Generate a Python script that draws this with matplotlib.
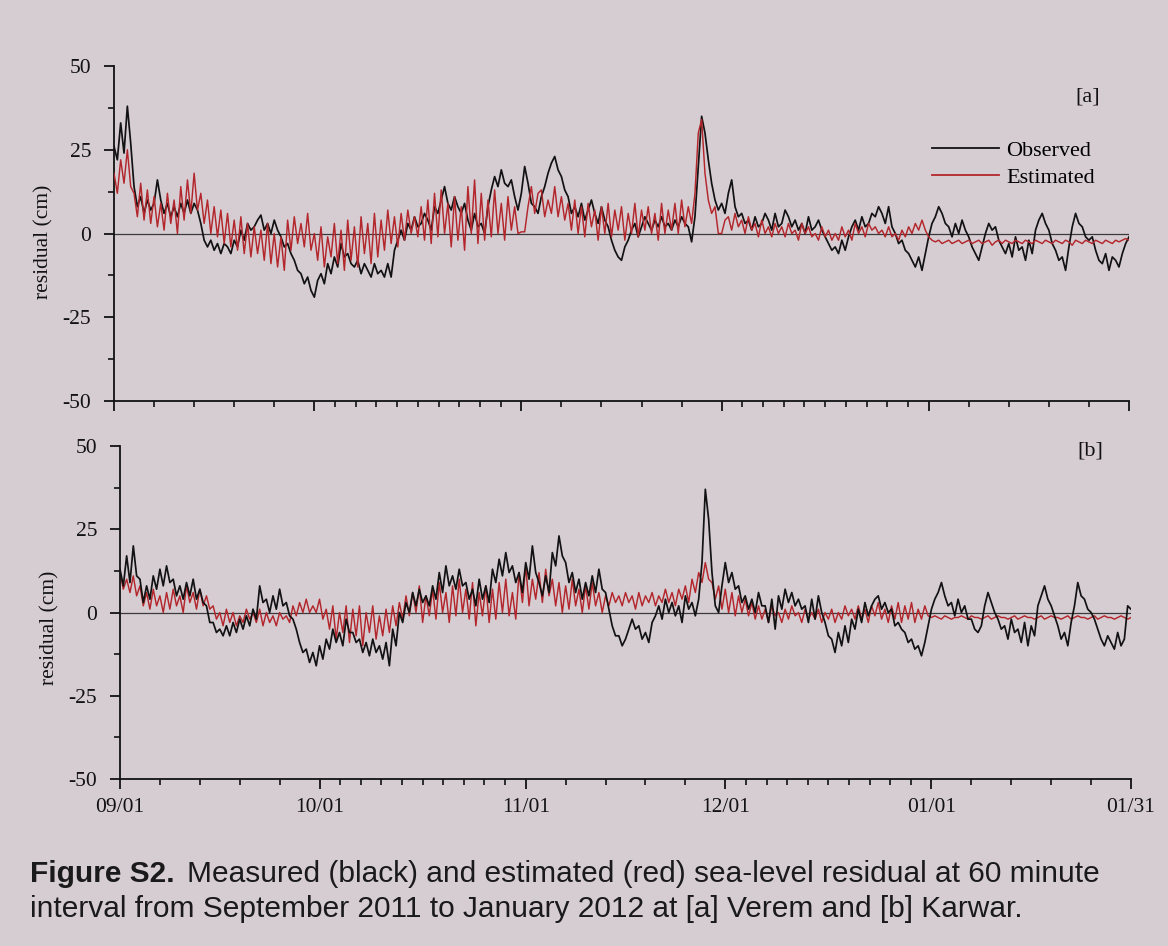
import numpy as np
import matplotlib
matplotlib.use("Agg")
import matplotlib.pyplot as plt
from matplotlib.lines import Line2D

# ---------------------------------------------------------------------------
# Axis labelling
# ---------------------------------------------------------------------------
month_labels = ["09/01", "10/01", "11/01", "12/01", "01/01", "01/31"]
month_days = [0, 30, 61, 91, 122, 152]          # days since 2011-09-01
minor_divisions = [5, 10, 5, 10, 5]            # minor tick subdivisions per month
y_ticks = [-50, -25, 0, 25, 50]
y_tick_labels = ["-50", "-25", "0", "25", "50"]
y_minor = [-37.5, -12.5, 12.5, 37.5]
step_days = 0.5                                 # sampling step of the series below

# ---------------------------------------------------------------------------
# Sea-level residual (cm), 12-hourly samples from 2011-09-01 to 2012-01-31
# ---------------------------------------------------------------------------
# [a] Verem - observed
obs_a = [
    26, 22, 33, 24, 38, 27, 14, 8, 11, 6, 10, 7, 9, 16, 10, 6, 9, 5, 8, 5,
    9, 6, 10, 6, 9, 7, 3, -2, -4, -2, -5, -3, -6, -3, -4, -6, -2, -4, 1, -2,
    3, 1, 2, 4, 5.5, 1, 3, 0, 4, 1, -1, -4, -3, -6, -8, -11, -12, -15, -13, -17,
    -19, -14, -12, -15, -9, -12, -7, -10, -3, -7, -6, -9, -10, -8, -12, -9, -11, -13, -9, -12,
    -11, -13, -9, -13, -5, -2, 1, -2, 3, 1, 5, 2, 3, 6, 4, 1, 8, 6, 10, 14,
    9, 7, 11, 8, 6, 9, 4, 1, 6, 2, 3, 0, 8, 13, 17, 14, 19, 15, 14, 16,
    11, 7, 12, 20, 15, 9, 8, 6, 11, 14, 18, 21, 23, 19, 17, 13, 11, 6, 8, 5,
    9, 4, 7, 10, 6, 3, 8, 4, 2, -2, -5, -7, -8, -4, -2, 1, 3, -1, 2, 5,
    3, 1, 4, 2, 5, 2, 3, 1, 4, 2, 5, 3, 2, -2.5, 5, 20, 35, 30, 22, 15,
    10, 7, 9, 6, 12, 16, 8, 5, 6, 3, 4, 1, 5, 2, 3, 6, 4, 1, 6, 2,
    3, 7, 5, 2, 4, 1, 3, 0, 5, 1, 2, 4, 1, -1, -3, -5, -4, -6, -2, -5,
    -1, 2, 4, 1, 5, 2, 3, 6, 5, 8, 6, 3, 8, 2, 0, -3, -2, -5, -6, -8,
    -10, -7, -11, -6, -1, 3, 5, 8, 6, 3, 2, -1, 3, 0, 4, 1, -1, -4, -6, -8,
    -4, 0, 3, 1, 2, -2, -4, -6, -3, -7, -1, -5, -4, -8, -2, -6, 1, 4, 6, 3,
    1, -3, -5, -8, -7, -11, -4, 2, 6, 3, 2, -1, -2, -1, -5, -8, -9, -6, -11, -7,
    -8, -10, -6, -3, -1,
]

# [a] Verem - estimated
est_a = [
    18, 12, 22, 15, 25, 14, 12, 5, 15, 4, 13, 3, 11, 2, 9, 1, 12, 3, 10, 0,
    14, 4, 16, 6, 18, 7, 12, 3, 10, 0, 8, -1, 7, -3, 6, -4, 4, -5, 5, -6,
    3, -7, 2, -6, 1, -8, 3, -9, 0, -10, -1, -11, 4, -5, 5, -3, 3, -4, 6, -5,
    0, -8, 2, -10, -1, -7, 3, -9, 1, -11, 4, -8, 2, -10, 5, -6, 3, -9, 6, -7,
    4, -5, 7, -3, 5, -4, 6, -2, 7, 0, 5, -1, 8, -2, 10, -3, 12, -1, 13, 0,
    9, -4, 11, -2, 8, -5, 14, 0, 16, -3, 12, -2, 10, -1, 13, 0, 9, -2, 11, 1,
    8, 0, 0.5, 0.5, 8, 14, 6, 12, 13, 5, 10, 6, 14, 5, 11, 4, 9, 1, 10, 0,
    8, -1, 9, 2, 7, -2, 8, 0, 9, -1, 7, 1, 8, -2, 6, 0, 9, -1, 7, 1,
    8, 0, 6, -2, 9, 0, 7, 1, 9, 0, 10, 2, 8, 3, 12, 30, 34, 18, 10, 6,
    8, 0, 0, 4, 5, 1, 6, 2, 4, 0, 5, 1, 3, -1, 4, 0, 2, -1, 3, 0,
    2, -1, 3, 0, 1, -2, 3, 0, 2, -1, 0, -2, 2, -1, 1, -2, 0, -2, 2, -1,
    1, -2, 3, 0, 2, -1, 3, 1, 2, 0, 1, -1, 2, -1, 0, -2, 1, -1, 2, 0,
    3, 1, 4, 1, -1, -2, -2.5, -2, -3, -2.5, -2, -3, -2.5, -2, -3, -2.5, -2, -3, -2.5, -2,
    -3, -2.5, -2, -3.5, -2.5, -2, -3, -2, -2.5, -3, -2, -2.5, -3, -2, -2.5, -3, -2, -2.5, -3, -2,
    -2.5, -3, -2, -2.5, -3, -2, -2.5, -3.5, -2, -2.5, -3, -2, -2.5, -3, -2, -2.5, -3, -2, -2.5, -3,
    -2, -2.5, -2, -1.5, -2,
]

# [b] Karwar - observed
obs_b = [
    13, 8, 17, 9, 20, 11, 10, 3, 8, 4, 11, 7, 13, 8, 14, 9, 10, 5, 8, 4,
    9, 5, 10, 4, 7, 3, 2, -3, -3, -6, -5, -7, -4, -7, -3, -6, -2, -5, -1, -4,
    1, -2, 8, 3, 4, 0, 5, 1, 7, 2, 3, -1, -2, -5, -9, -12, -11, -15, -12, -16,
    -10, -14, -8, -11, -5, -9, -6, -10, -2, -6, -6, -9, -8, -12, -9, -13, -8, -12, -10, -14,
    -9, -16, -5, -10, 0, -3, 3, 0, 6, 2, 7, 3, 5, 2, 8, 4, 12, 6, 14, 8,
    11, 7, 13, 8, 9, 4, 7, 2, 10, 4, 8, 3, 13, 9, 16, 11, 18, 12, 14, 9,
    12, 6, 15, 10, 20, 12, 9, 5, 11, 6, 18, 14, 23, 17, 15, 9, 12, 6, 10, 4,
    9, 5, 11, 6, 13, 7, 6, 1, -4, -7, -7, -10, -8, -5, -2, -5, -4, -8, -6, -9,
    -3, -1, 2, -2, 4, 0, 3, -1, 2, -3, 5, 1, 3, -1, 4, 15, 37, 28, 12, 2,
    0, 8, 15, 9, 12, 7, 8, 3, 5, 1, 4, 0, 6, 2, 2, -3, 4, -5, 5, 1,
    7, 3, 6, 2, 4, 1, 2, -3, 4, -2, 5, 0, -3, -7, -8, -12, -6, -10, -4, -9,
    -2, -5, 1, -3, 3, -1, 2, 4, 5, 1, 3, 0, 1, -4, -3, -5, -6, -9, -8, -11,
    -10, -13, -9, -4, 1, 4, 6, 9, 5, 2, 3, -1, 4, 0, 2, -2, -2, -5, -6, -4,
    2, 6, 3, 0, -2, -5, -4, -8, -2, -6, -5, -9, -3, -10, -4, -7, 2, 5, 8, 4,
    2, -1, -4, -8, -6, -10, -3, 2, 9, 5, 4, 1, 0, -2, -5, -8, -10, -7, -9, -11,
    -6, -10, -8, 2, 1,
]

# [b] Karwar - estimated
est_b = [
    12, 7, 10, 6, 11, 5, 8, 2, 6, 1, 7, 2, 5, 0, 6, 1, 7, 2, 5, 0,
    8, 3, 6, 1, 7, 2, 5, 1, 2, -2, 0, -4, 1, -3, 0, -4, -1, -3, 1, -2,
    0, -3, 1, -4, 0, -3, -1, -4, 0, -2, -1, -3, 2, -1, 3, 0, 4, 0, 2, 0,
    4, -2, 1, -5, 2, -8, 0, -6, 2, -9, 1, -7, 2, -10, 0, -6, 2, -8, -1, -7,
    1, -6, 2, -4, 3, -2, 5, -1, 6, 0, 8, -3, 5, -1, 7, -2, 9, 0, 6, -3,
    8, -1, 10, 0, 7, -2, 9, -4, 6, -1, 8, -3, 7, -2, 9, 0, 10, -1, 6, -2,
    12, 3, 14, 2, 10, 4, 12, 3, 13, 5, 10, 2, 9, 0, 8, 1, 10, 2, 7, 0,
    8, 1, 9, 2, 6, 0, 5, 2, 6, 3, 5, 2, 6, 3, 5, 1, 6, 2, 5, 3,
    6, 2, 5, 3, 7, 3, 6, 2, 7, 4, 8, 3, 10, 6, 12, 9, 15, 10, 9, 4,
    8, 1, 7, 0, 6, -1, 5, 0, 4, -1, 3, -2, 2, -2, 1, -3, 2, -1, 0, -3,
    1, -2, 2, -1, 0, -3, 1, -2, 0, -2, 1, -3, 0, -2, 1, -3, 0, -2, 2, -1,
    1, -2, 2, -2, 1, -3, 2, -1, 3, -2, 1, -3, 2, -2, 3, -3, 2, -2, 3, -3,
    1, -2, 2, -1, -1.5, -1, -1.5, -2, -1, -1.5, -2, -1.5, -1.5, -1, -1.5, -2, -1, -1.5, -1.5, -2,
    -1.5, -1, -2, -1.5, -1, -1.5, -1.5, -2, -1.5, -1, -2, -1.5, -1, -1.5, -1.5, -2, -1.5, -1, -2, -1.5,
    -1, -1.5, -1.5, -2, -1.5, -1, -2, -1.5, -1, -1.5, -1.5, -2, -1.5, -1, -2, -1.5, -1, -1.5, -1.5, -2,
    -1.5, -1, -1.5, -2, -1.5,
]

# ---------------------------------------------------------------------------
# Styling
# ---------------------------------------------------------------------------
BG = "#d6cdd3"
INK = "#121212"
RED = "#b3262b"
SERIF = ["Liberation Serif", "DejaVu Serif"]
SANS = ["Liberation Sans", "DejaVu Sans"]

W, H = 1168, 946
fig = plt.figure(figsize=(W / 100, H / 100), dpi=100, facecolor=BG)


def px_box(left, right, top, bottom):
    return [left / W, 1 - bottom / H, (right - left) / W, (bottom - top) / H]


ax_a = fig.add_axes(px_box(114, 1129, 66, 401))
ax_b = fig.add_axes(px_box(120, 1131, 446, 779))

minor_x = []
for (d0, d1), n in zip(zip(month_days[:-1], month_days[1:]), minor_divisions):
    minor_x.extend(d0 + (d1 - d0) * k / n for k in range(1, n))


def series_time(values):
    return np.arange(len(values)) * step_days


def style(ax, show_dates, label_y):
    ax.set_facecolor("none")
    ax.set_xlim(month_days[0], month_days[-1])
    ax.set_ylim(-50, 50)
    for s in ("top", "right"):
        ax.spines[s].set_visible(False)
    for s in ("left", "bottom"):
        ax.spines[s].set_color(INK)
        ax.spines[s].set_linewidth(1.3)
    ax.set_xticks(month_days)
    ax.set_xticks(minor_x, minor=True)
    ax.set_yticks(y_ticks)
    ax.set_yticks(y_minor, minor=True)
    ax.set_yticklabels(y_tick_labels, family=SERIF, fontsize=15.5, color=INK)
    if show_dates:
        ax.set_xticklabels(month_labels, family=SERIF, fontsize=15.5, color=INK)
    else:
        ax.set_xticklabels([])
    ax.tick_params(axis="both", which="major", direction="out", length=7.5,
                   width=1.3, color=INK)
    ax.tick_params(axis="both", which="minor", direction="out", length=4,
                   width=1.2, color=INK)
    ax.tick_params(axis="y", which="major", pad=9)
    ax.tick_params(axis="x", which="major", pad=6)
    ax.axhline(0, color="#3a3a3a", lw=0.9, zorder=1)
    ax.set_ylabel("residual (cm)", family=SERIF, fontsize=15.5, color=INK,
                  va="center")
    ax.yaxis.set_label_coords(-0.069, label_y)


style(ax_a, False, 0.475)
style(ax_b, True, 0.455)

ax_a.plot(series_time(obs_a), obs_a, color=INK, lw=1.25, zorder=2)
ax_a.plot(series_time(est_a), est_a, color=RED, lw=1.05, zorder=3)
ax_b.plot(series_time(est_b), est_b, color=RED, lw=1.05, zorder=2)
ax_b.plot(series_time(obs_b), obs_b, color=INK, lw=1.25, zorder=3)

handles = [Line2D([], [], color=INK, lw=1.3), Line2D([], [], color=RED, lw=1.3)]
ax_a.legend(handles, ["Observed", "Estimated"], loc="upper left",
            bbox_to_anchor=(932 / W, 1 - 140 / H), bbox_transform=fig.transFigure,
            frameon=False, prop=dict(family=SERIF, size=16), handlelength=3.0,
            handletextpad=0.35, labelspacing=0.3, borderpad=0, borderaxespad=0)

fig.text(1088 / W, 1 - 97 / H, "[a]", family=SERIF, fontsize=16, color=INK,
         ha="center", va="center")
fig.text(1090 / W, 1 - 451 / H, "[b]", family=SERIF, fontsize=16, color=INK,
         ha="center", va="center")

# Caption: bold figure number followed by regular text
renderer = fig.canvas.get_renderer()
cap_size = 21.5
head = fig.text(30 / W, 1 - 882 / H, "Figure S2.", family=SANS, fontsize=cap_size,
                fontweight="bold", color="#1a1a1a", va="baseline", ha="left")
bb = head.get_window_extent(renderer)
fig.text((bb.x1 + 12) / W, 1 - 882 / H,
         "Measured (black) and estimated (red) sea-level residual at 60 minute",
         family=SANS, fontsize=cap_size, color="#1a1a1a", va="baseline", ha="left")
fig.text(30 / W, 1 - 917 / H,
         "interval from September 2011 to January 2012 at [a] Verem and [b] Karwar.",
         family=SANS, fontsize=cap_size, color="#1a1a1a", va="baseline", ha="left")

fig.savefig("out.png", dpi=100, facecolor=BG)
